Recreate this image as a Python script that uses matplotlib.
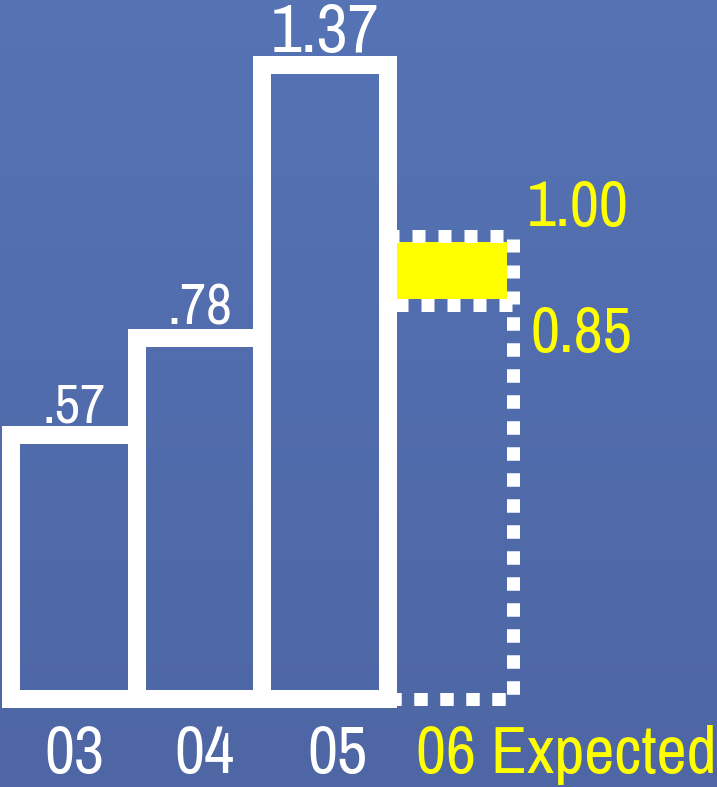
import numpy as np
import matplotlib
matplotlib.use("Agg")
import matplotlib.pyplot as plt
from matplotlib.patches import Rectangle
from matplotlib.transforms import blended_transform_factory

plt.rcParams['font.family'] = ['Archivo Narrow', 'DejaVu Sans']

# data
years = ["03", "04", "05"]
values = [0.57, 0.78, 1.37]
value_labels = [".57", ".78", "1.37"]
expected_label = "06 Expected"
expected_low = 0.85
expected_high = 1.00
expected_labels = ["0.85", "1.00"]

W, H, DPI = 717, 787, 100
PX_X = 125.5      # pixels per bar slot
PX_Y = 463.0      # pixels per unit of value
X0 = 74           # pixel centre of first bar
BASE = 88         # baseline pixels from bottom

fig = plt.figure(figsize=(W / DPI, H / DPI), dpi=DPI)

# background gradient
bg = fig.add_axes([0, 0, 1, 1])
top = np.array([85, 115, 181]) / 255
bot = np.array([78, 102, 164]) / 255
t = np.linspace(0, 1, 256)[:, None]
grad = top[None, :] * (1 - t) + bot[None, :] * t
bg.imshow(grad[:, None, :], aspect='auto', extent=[0, 1, 0, 1])
bg.axis('off')

ax = fig.add_axes([0, 0, 1, 1])
ax.patch.set_alpha(0)
ax.set_xlim(-X0 / PX_X, (W - X0) / PX_X)
ax.set_ylim(-BASE / PX_Y, (H - BASE) / PX_Y)
ax.axis('off')

lw_solid = 18 * 72 / DPI
lw_dot = 13 * 72 / DPI

x = np.arange(len(years))
ax.bar(x, values, width=1, fill=False, edgecolor='white', linewidth=lw_solid, zorder=3)

# expected bar: yellow range and dotted outline
xe = len(years)
inset_x = 6 / PX_X
inset_y = 6.5 / PX_Y
ax.add_patch(Rectangle((xe - 0.5, expected_low + inset_y), 1 - inset_x,
                       expected_high - expected_low - 2 * inset_y,
                       facecolor='#ffff00', edgecolor='none', zorder=2))
ax.bar(xe, expected_high, width=1, fill=False, edgecolor='white',
       linewidth=lw_dot, linestyle=(0, (1, 1)), zorder=2.5)
ax.bar(xe, expected_low, width=1, fill=False, edgecolor='white',
       linewidth=lw_dot, linestyle=(0, (1, 1)), zorder=2.5)

# value labels
sizes = [40, 41, 49]
for xi, v, lab, fs in zip(x, values, value_labels, sizes):
    ax.annotate(lab, (xi, v), xytext=(0, 13 * 72 / DPI), textcoords='offset points',
                ha='center', va='baseline', color='white', fontsize=fs)

ax.annotate(expected_labels[1], (xe + 0.5, expected_high), xytext=(14 * 72 / DPI, 10 * 72 / DPI),
            textcoords='offset points', ha='left', va='baseline', color='#ffff00', fontsize=46)
ax.annotate(expected_labels[0], (xe + 0.5, expected_low), xytext=(17 * 72 / DPI, -47 * 72 / DPI),
            textcoords='offset points', ha='left', va='baseline', color='#ffff00', fontsize=46)

# category labels
tr = blended_transform_factory(ax.transData, ax.transAxes)
label_dx = [0, 0.04, 0.1]
for xi, lab, dx in zip(x, years, label_dx):
    ax.text(xi + dx, 14 / H, lab, transform=tr, ha='center', va='baseline',
            color='white', fontsize=47.5)
ax.text(xe - 0.5 + 28 / PX_X, 14 / H, expected_label, transform=tr, ha='left',
        va='baseline', color='#ffff00', fontsize=47.5)

fig.savefig("out.png", dpi=DPI)
